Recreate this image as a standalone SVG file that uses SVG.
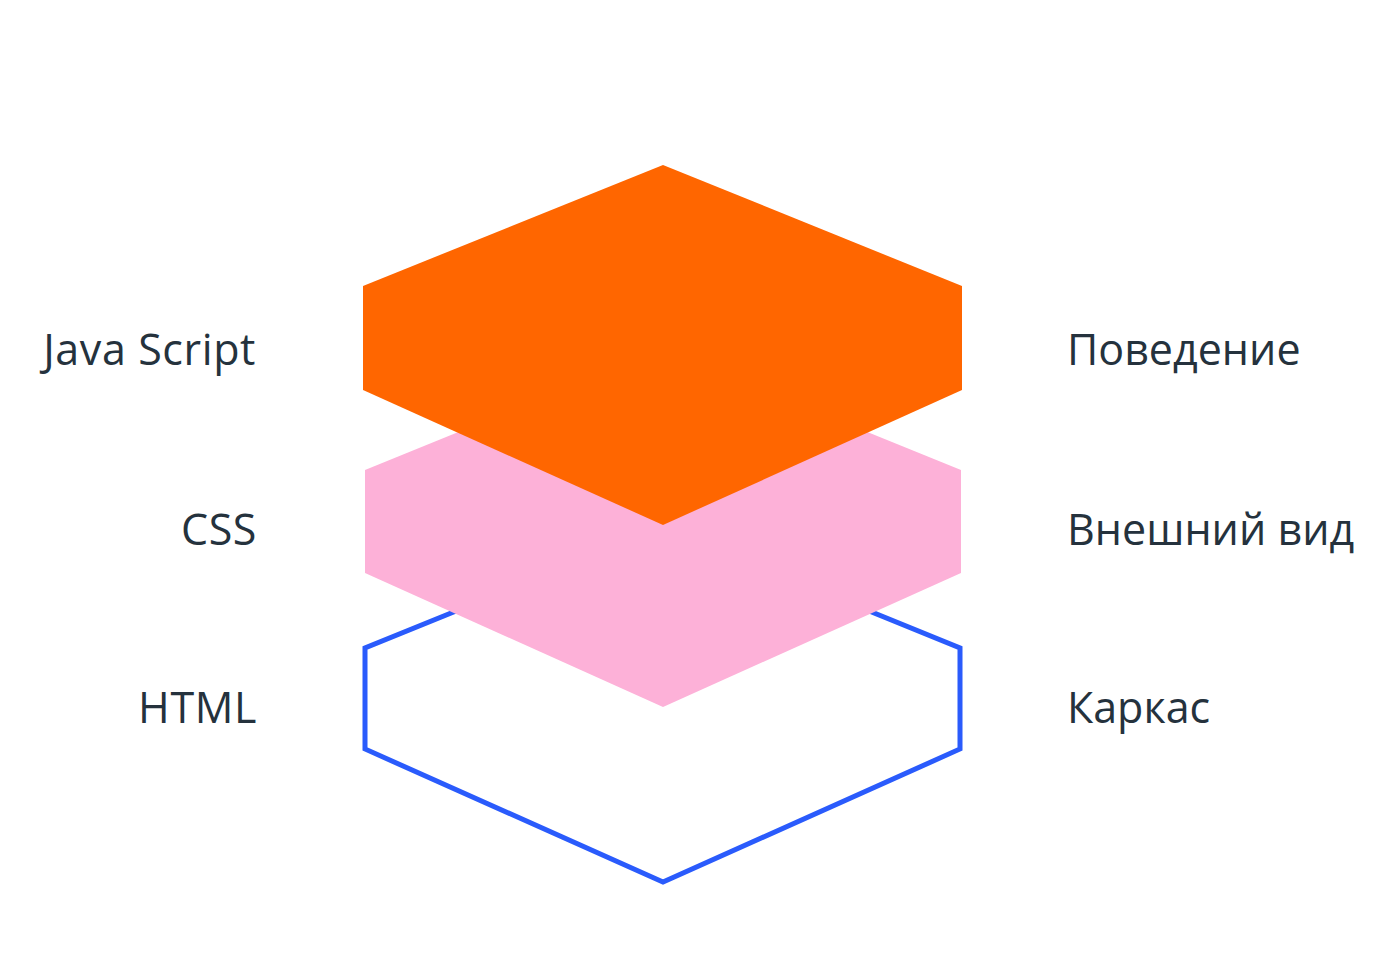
<svg xmlns="http://www.w3.org/2000/svg" width="1394" height="958" viewBox="0 0 1394 958">
<style>
.lbl{font-family:"Open Sans","Noto Sans","Liberation Sans",sans-serif;font-size:43px;fill:#25323d}
.l{text-anchor:end;letter-spacing:0.6px}
</style>
<rect width="1394" height="958" fill="#ffffff"/>
<g id="html-layer">
<polygon points="663,527 960,648 960,749 663,882 365,749 365,648" fill="none" stroke="#2a5bfc" stroke-width="5" stroke-linejoin="miter"/>
</g>
<g id="css-layer">
<polygon points="663,349 961,470 961,573 663,707 365,573 365,470" fill="#fdb1d8"/>
</g>
<g id="js-layer">
<polygon points="663,165 962,286 962,390 663,525 363,390 363,286" fill="#ff6600"/>
</g>
<g id="labels">
<text class="lbl l" x="256" y="365">Java Script</text>
<text class="lbl l" x="257" y="545">CSS</text>
<text class="lbl l" x="257" y="723">HTML</text>
<text class="lbl" x="1067" y="365">Поведение</text>
<text class="lbl" x="1067" y="545">Внешний вид</text>
<text class="lbl" x="1067" y="723">Каркас</text>
</g>
</svg>
